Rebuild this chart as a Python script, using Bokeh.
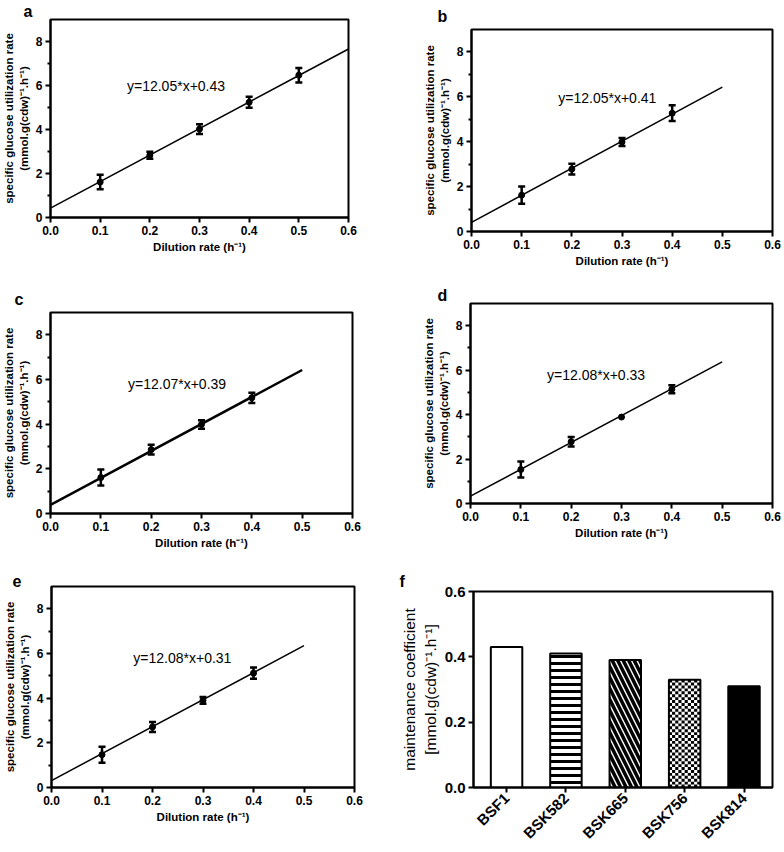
from bokeh.plotting import figure
from bokeh.models import (ColumnDataSource, Whisker, TeeHead, Label, Range1d,
                          FixedTicker, NumeralTickFormatter)
from bokeh.layouts import column, row
from bokeh.embed import file_html
from bokeh.resources import INLINE
import math

FONT = "Liberation Sans"

# ---------------- data ----------------
dilution_a = [0.1, 0.2, 0.3, 0.4, 0.5]
rate_a = [1.61, 2.83, 4.02, 5.24, 6.47]
err_a = [0.33, 0.16, 0.22, 0.25, 0.33]

dilution_b = [0.1, 0.2, 0.3, 0.4]
rate_b = [1.62, 2.78, 3.99, 5.27]
err_b = [0.38, 0.24, 0.18, 0.35]

dilution_c = [0.1, 0.2, 0.3, 0.4]
rate_c = [1.61, 2.86, 3.99, 5.18]
err_c = [0.36, 0.22, 0.19, 0.23]

dilution_d = [0.1, 0.2, 0.3, 0.4]
rate_d = [1.53, 2.78, 3.89, 5.14]
err_d = [0.36, 0.21, 0.0, 0.18]

dilution_e = [0.1, 0.2, 0.3, 0.4]
rate_e = [1.47, 2.71, 3.90, 5.12]
err_e = [0.36, 0.22, 0.15, 0.25]

fit_slopes = [12.05, 12.05, 12.07, 12.08, 12.08]
fit_intercepts = [0.43, 0.41, 0.39, 0.33, 0.31]
fit_x_end = [0.6, 0.5, 0.5, 0.5, 0.5]

x_ticks = [0.0, 0.1, 0.2, 0.3, 0.4, 0.5, 0.6]
y_ticks = [0, 2, 4, 6, 8]

strains = ["BSF1", "BSK582", "BSK665", "BSK756", "BSK814"]
maintenance = [0.43, 0.41, 0.39, 0.33, 0.31]
bar_ticks = [0.0, 0.2, 0.4, 0.6]

Y_LABEL = "specific glucose utilization rate\n(mmol.g(cdw)\u207b\u00b9.h\u207b\u00b9)"
X_LABEL = "Dilution rate (h\u207b\u00b9)"


def style_axes(p, tick_size, label_size, label_style="bold"):
    p.grid.visible = False
    p.outline_line_color = "black"
    p.outline_line_width = 2
    p.background_fill_color = "white"
    p.border_fill_color = "white"
    for ax in (p.xaxis[0], p.yaxis[0]):
        ax.axis_line_width = 2
        ax.axis_line_color = "black"
        ax.major_tick_line_width = 2
        ax.major_tick_line_color = "black"
        ax.major_tick_out = 5
        ax.major_tick_in = 0
        ax.minor_tick_line_width = 2
        ax.minor_tick_line_color = "black"
        ax.minor_tick_out = 3
        ax.minor_tick_in = 0
        ax.major_label_text_font = FONT
        ax.major_label_text_font_style = "bold"
        ax.major_label_text_font_size = tick_size
        ax.major_label_text_color = "black"
        ax.major_label_standoff = 3
        ax.axis_label_text_font = FONT
        ax.axis_label_text_font_style = label_style
        ax.axis_label_text_font_size = label_size
        ax.axis_label_text_color = "black"
        ax.axis_label_standoff = 3


def panel_letter(p, letter, offset, standoff):
    t = p.title
    t.text = letter
    t.align = "left"
    t.offset = offset
    t.standoff = standoff
    t.text_font = FONT
    t.text_font_size = "16px"
    t.text_font_style = "bold"
    t.text_color = "black"
    t.vertical_align = "bottom"


def line_panel(idx, letter, xs, ys, errs, width, height, borders, eq_pos, letter_pos,
               fit_width=1.5):
    L, R, T, B = borders
    p = figure(width=width, height=height, x_range=Range1d(0, 0.6), y_range=Range1d(0, 9),
               output_backend="svg", toolbar_location=None,
               min_border_left=L, min_border_right=R, min_border_top=T, min_border_bottom=B)
    style_axes(p, "12px", "11.5px")
    p.xaxis.ticker = FixedTicker(ticks=x_ticks)
    p.xaxis.formatter = NumeralTickFormatter(format="0.0")
    p.xaxis.minor_tick_line_color = None
    p.yaxis.ticker = FixedTicker(ticks=y_ticks, minor_ticks=[1, 3, 5, 7])
    p.xaxis.axis_label = X_LABEL
    p.yaxis.axis_label = Y_LABEL

    slope, icpt, xend = fit_slopes[idx], fit_intercepts[idx], fit_x_end[idx]
    fx = [0.0, xend]
    fy = [icpt + slope * v for v in fx]
    p.line(fx, fy, line_color="black", line_width=fit_width)

    ex = [x for x, e in zip(xs, errs) if e > 0]
    ey = [y for y, e in zip(ys, errs) if e > 0]
    ee = [e for e in errs if e > 0]
    wsrc = ColumnDataSource(dict(x=ex, upper=[y + e for y, e in zip(ey, ee)],
                                 lower=[y - e for y, e in zip(ey, ee)]))
    p.add_layout(Whisker(source=wsrc, base="x", upper="upper", lower="lower",
                         line_color="black", line_width=2.5,
                         upper_head=TeeHead(size=7, line_width=2.5, line_color="black"),
                         lower_head=TeeHead(size=7, line_width=2.5, line_color="black"),
                         level="glyph"))
    p.scatter(xs, ys, size=6, marker="circle", fill_color="black", line_color="black")

    eq = "y=%.2f*x+%.2f" % (slope, icpt)
    p.add_layout(Label(x=eq_pos[0], y=eq_pos[1], text=eq, text_font=FONT,
                       text_font_size="14px", text_color="black",
                       text_baseline="middle", text_align="left"))
    panel_letter(p, letter, *letter_pos)
    return p


pa = line_panel(0, "a", dilution_a, rate_a, err_a, 392, 284, (45, 44, 15, 67),
                (0.154, 6.0), (-27, 0))
pb = line_panel(1, "b", dilution_b, rate_b, err_b, 390, 284, (79, 10, 29, 53),
                (0.173, 5.95), (-34, 10))
pc = line_panel(2, "c", dilution_c, rate_c, err_c, 392, 284, (49, 40, 28, 55),
                (0.154, 5.82), (-36, 9), fit_width=2.5)
pd = line_panel(3, "d", dilution_d, rate_d, err_d, 390, 284, (78, 10, 18, 65),
                (0.152, 5.79), (-33, 0))
pe = line_panel(4, "e", dilution_e, rate_e, err_e, 392, 282, (51, 38, 18, 63),
                (0.162, 5.82), (-39, 0))

# ---------------- bar panel f ----------------
bar_fill = ["white", "white", "white", "white", "black"]
bar_hatch = [None, "-", "\\", "checker", None]
bar_hatch_scale = [7, 7, 11, 6, 7]
bar_hatch_weight = [3, 3, 3.5, 1, 3]
BAR_W = 0.53

pf = figure(width=390, height=282, x_range=Range1d(-0.557, 4.48), y_range=Range1d(0, 0.6),
            output_backend="svg", toolbar_location=None,
            min_border_left=81, min_border_right=10, min_border_top=22, min_border_bottom=57)
style_axes(pf, "15px", "15.5px", label_style="normal")
pf.yaxis.ticker = FixedTicker(ticks=bar_ticks)
pf.yaxis.formatter = NumeralTickFormatter(format="0.0")
pf.yaxis.minor_tick_line_color = None
pf.xaxis.ticker = FixedTicker(ticks=list(range(len(strains))))
pf.xaxis.major_label_overrides = {i: s for i, s in enumerate(strains)}
pf.xaxis.minor_tick_line_color = None
pf.xaxis.major_label_orientation = math.pi / 4
pf.xaxis.major_label_text_font_size = "15px"
pf.yaxis.axis_label = "maintenance coefficient\n[mmol.g(cdw)\u207b\u00b9.h\u207b\u00b9]"

for i, (name, val) in enumerate(zip(strains, maintenance)):
    pat = bar_hatch[i]
    if pat == "checker":
        # white bar, then a fine checkerboard fill, then the outline
        pf.vbar(x=[i], top=[val], width=BAR_W, fill_color="white", line_color=None)
        ncol, nrow = 10, int(round(val / 0.0089))
        cw, ch = BAR_W / ncol, val / nrow
        left, right, bottom, top = [], [], [], []
        for r in range(nrow):
            for c in range(ncol):
                if (r + c) % 2 == 0:
                    x0 = i - BAR_W / 2 + c * cw
                    left.append(x0)
                    right.append(x0 + cw)
                    bottom.append(r * ch)
                    top.append((r + 1) * ch)
        pf.quad(left=left, right=right, bottom=bottom, top=top,
                fill_color="black", line_color=None)
        pf.vbar(x=[i], top=[val], width=BAR_W, fill_color=None,
                line_color="black", line_width=2)
        continue
    kw = {}
    if pat is not None:
        kw = dict(hatch_pattern=pat, hatch_color="black",
                  hatch_scale=bar_hatch_scale[i], hatch_weight=bar_hatch_weight[i])
    pf.vbar(x=[i], top=[val], width=BAR_W, fill_color=bar_fill[i],
            line_color="black", line_width=2, **kw)
panel_letter(pf, "f", -74, 4)

layout = column(row(column(pa), column(pb)), row(column(pc), column(pd)),
                row(column(pe), column(pf)))
open("out.html", "w").write(file_html(layout, INLINE))
